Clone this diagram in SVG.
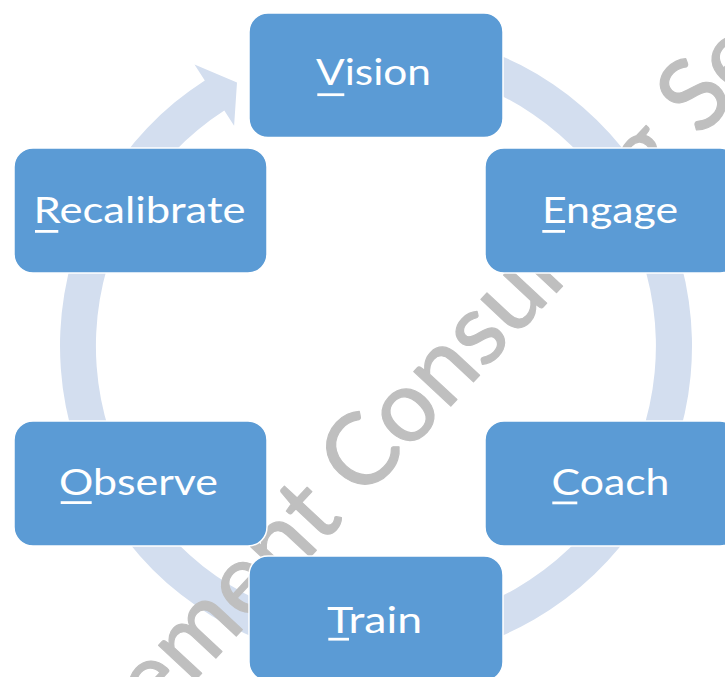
<svg xmlns="http://www.w3.org/2000/svg" width="725" height="677" viewBox="0 0 725 677">
  <style>
    .box { fill: #5B9BD5; stroke: #FFFFFF; stroke-width: 1.5; }
    .label { font-family: Lato, "Open Sans", "Liberation Sans", sans-serif; font-size: 36px; fill: #FFFFFF; }
    .ul { fill: #FFFFFF; }
    .ring { fill: #D3DEEF; }
    .watermark { font-family: Lato, "Open Sans", "Liberation Sans", sans-serif; font-size: 100px; fill: #BFBFBF; stroke: #BFBFBF; stroke-width: 1.2; stroke-linejoin: round; }
  </style>
  <rect width="725" height="677" fill="#FFFFFF"/>

  <!-- circular arrow running clockwise behind the steps -->
  <g id="connectors">
    <path class="ring" d="M 376 30 A 316 316 0 1 1 204.8 80.4 L 194.5 64.4 L 237 82.4 L 234.1 125.8 L 224.3 110.6 A 280 280 0 1 0 376 66 Z"/>
  </g>

  <!-- diagonal watermark -->
  <text class="watermark" transform="translate(352,512) rotate(-47)" x="-587" y="0">Management Consulting Services</text>

  <g id="vision">
    <rect class="box" x="249" y="13" width="254" height="124.5" rx="19"/>
    <text class="label" x="316" y="85" textLength="115" lengthAdjust="spacingAndGlyphs">Vision</text>
    <rect class="ul" x="317.3" y="93.3" width="27" height="2.8"/>
  </g>
  <g id="engage">
    <rect class="box" x="485" y="148" width="254" height="125" rx="19"/>
    <text class="label" x="542" y="222.7" textLength="136" lengthAdjust="spacingAndGlyphs">Engage</text>
    <rect class="ul" x="542.3" y="230" width="22.7" height="2.8"/>
  </g>
  <g id="coach">
    <rect class="box" x="485" y="421" width="254" height="125" rx="19"/>
    <text class="label" x="551.5" y="495" textLength="118" lengthAdjust="spacingAndGlyphs">Coach</text>
    <rect class="ul" x="552.3" y="501.5" width="25" height="2.8"/>
  </g>
  <g id="train">
    <rect class="box" x="249" y="556" width="254" height="125" rx="19"/>
    <text class="label" x="327" y="632.7" textLength="95" lengthAdjust="spacingAndGlyphs">Train</text>
    <rect class="ul" x="328.3" y="637.8" width="20.7" height="2.8"/>
  </g>
  <g id="observe">
    <rect class="box" x="14" y="421" width="253" height="125" rx="19"/>
    <text class="label" x="59" y="495" textLength="159" lengthAdjust="spacingAndGlyphs">Observe</text>
    <rect class="ul" x="60.7" y="501.2" width="31" height="2.8"/>
  </g>
  <g id="recalibrate">
    <rect class="box" x="14" y="148" width="253" height="125" rx="19"/>
    <text class="label" x="33.5" y="222.5" textLength="212" lengthAdjust="spacingAndGlyphs">Recalibrate</text>
    <rect class="ul" x="35" y="230" width="23.3" height="2.8"/>
  </g>
</svg>
